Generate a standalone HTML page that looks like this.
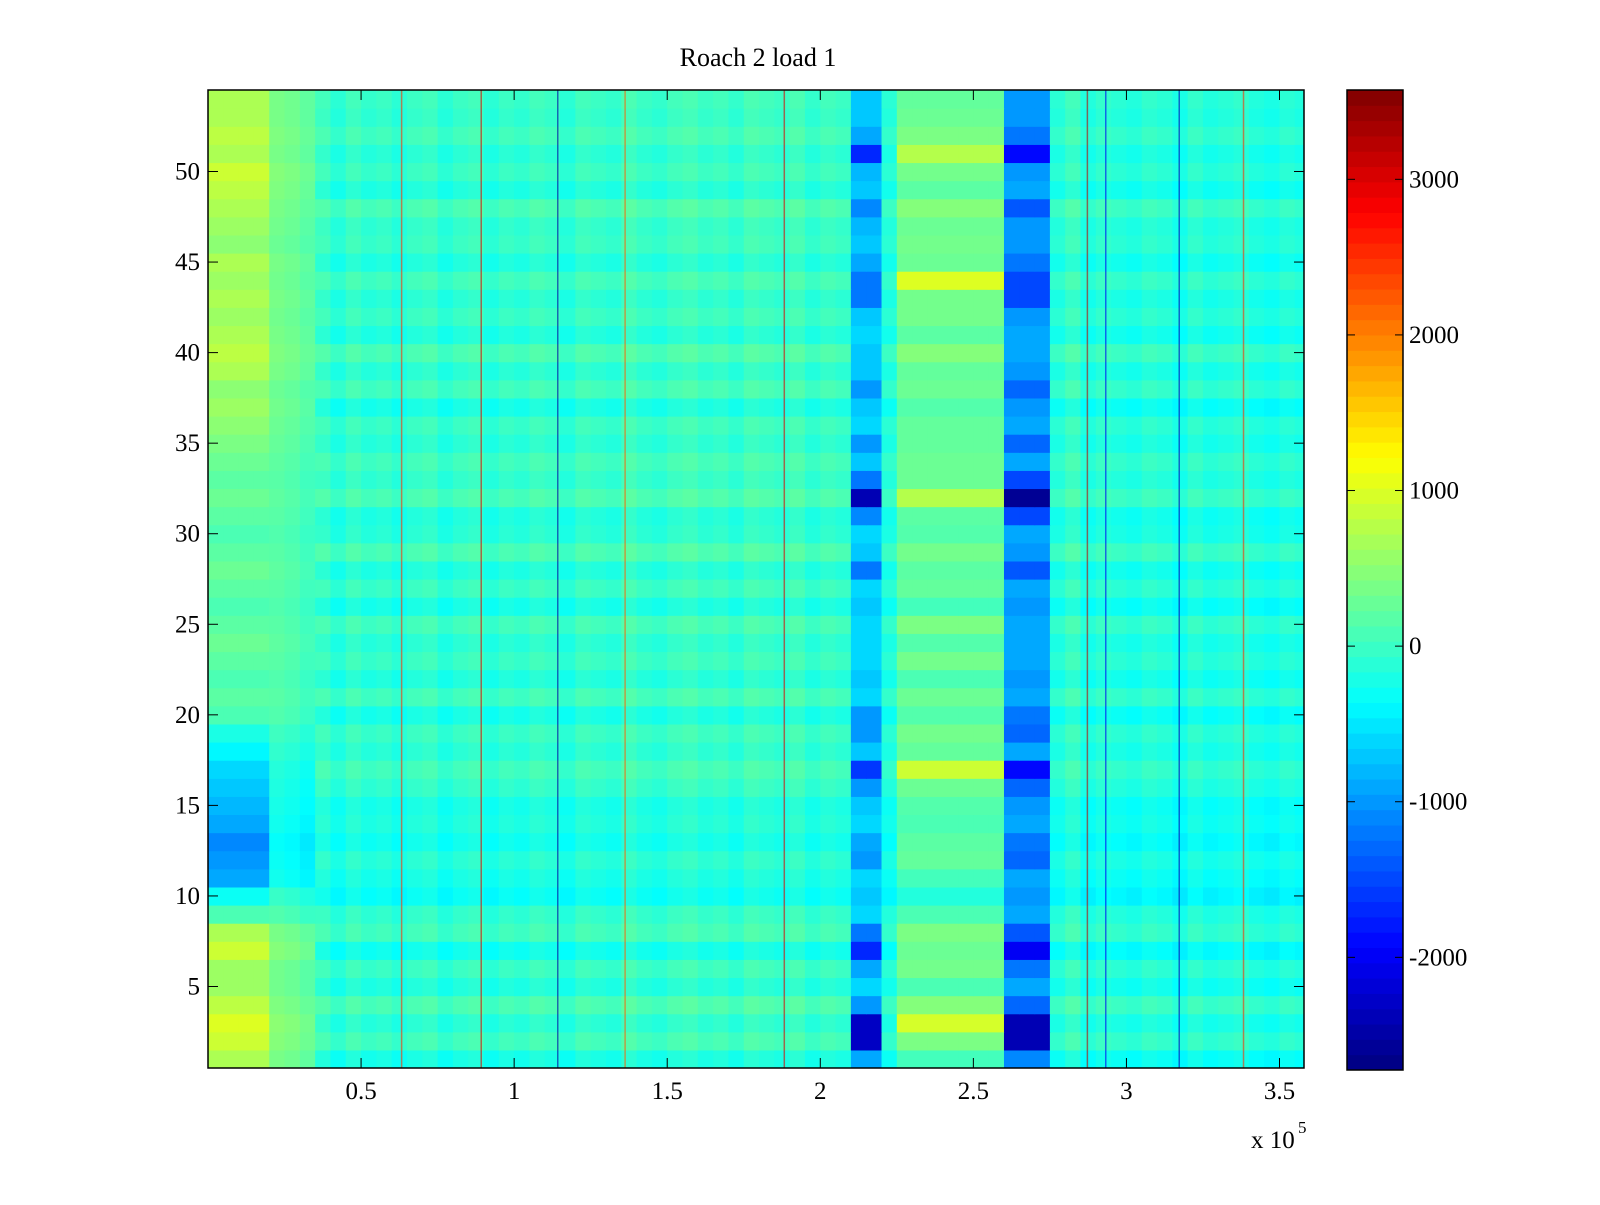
<!DOCTYPE html>
<html><head><meta charset="utf-8"><style>
body{margin:0;background:#fff;width:1600px;height:1200px;overflow:hidden}
svg text{font-family:"Liberation Serif",serif;fill:#000}
</style></head><body>
<svg id="c" width="1600" height="1200">
<defs><clipPath id="pc"><rect x="208" y="90" width="1096" height="978"/></clipPath></defs>
<text x="758" y="66" font-size="26" text-anchor="middle">Roach 2 load 1</text>
<g id="cells" clip-path="url(#pc)"></g>
<g id="lines" clip-path="url(#pc)"></g>
<rect x="208" y="90" width="1096" height="978" fill="none" stroke="#000" stroke-width="1.5"/>
<g id="axes"></g>
<g id="cbar"></g>
<text x="1251" y="1148" font-size="25">x 10</text><text x="1298" y="1133" font-size="17">5</text>
</svg>
<script>
const vmin=-2724, vmax=3574;
const xTicks=[0.5,1,1.5,2,2.5,3,3.5];
const yTicks=[5,10,15,20,25,30,35,40,45,50];
const cTicks=[-2000,-1000,0,1000,2000,3000];
const rowLeft=[700,900,1000,800,600,600,900,700,100,-300,-900,-1000,-1100,-900,-800,-700,-600,-400,-200,100,200,100,200,300,200,100,200,300,200,100,200,300,200,300,400,500,600,500,700,800,700,600,700,600,700,500,600,700,800,900,700,800,700,700];
const rowBase=[-150,100,-50,150,-100,50,-200,100,0,-250,-150,-50,-200,-100,-150,0,100,-50,50,-150,100,-100,50,-50,100,-150,50,-100,150,-50,-100,150,0,100,-50,50,-150,100,-50,150,-100,50,-50,100,-100,50,0,150,-100,50,-50,100,0,50];
const colBase=[300,300,300,200,100,50,-50,0,-150,0,-100,-50,-150,-50,0,-150,-50,0,-150,-50,-100,0,-50,-150,0,-50,-100,50,-50,-100,0,50,-50,0,-100,50,0,-50,50,-100,0,-50,0,50,-150,0,-50,-100,50,200,150,200,200,100,-100,-150,0,-200,-100,-150,-200,-100,-150,-250,-100,-200,-150,-100,-200,-250,-150,-200];
const blueA=[-900,-2300,-2300,-1000,-600,-900,-1700,-1200,-600,-700,-600,-1000,-900,-600,-700,-1000,-1600,-700,-1000,-1000,-600,-700,-600,-600,-600,-700,-600,-1200,-700,-600,-1100,-2400,-1200,-700,-1000,-600,-700,-1000,-700,-700,-600,-700,-1200,-1200,-900,-700,-800,-1100,-700,-800,-1700,-900,-700,-700];
const blueB=[-1100,-2400,-2400,-1300,-900,-1200,-2000,-1400,-900,-1000,-900,-1300,-1200,-900,-1000,-1300,-1900,-900,-1300,-1200,-900,-1000,-900,-900,-900,-1000,-900,-1400,-1000,-900,-1500,-2600,-1500,-900,-1300,-900,-1000,-1300,-1000,-900,-900,-1000,-1500,-1500,-1200,-1000,-1000,-1400,-900,-1000,-1900,-1200,-1000,-1000];
const yellowBand=[200,300,1000,300,200,300,500,300,100,100,200,300,400,200,300,300,800,300,300,300,200,200,300,200,300,200,200,300,200,200,300,600,300,200,300,200,300,200,300,300,300,300,400,900,400,300,300,300,300,300,800,300,300,200];
const spikeX=[0.63,0.89,1.14,1.36,1.88,2.87,2.93,3.17,3.38];
const spikeVal=[2500,3000,-2500,2200,3000,3200,-2000,-2400,2500];
const x0=208,x1=1304,y0=90,y1=1068,xmax=3.58;
const sx=v=>x0+v/xmax*(x1-x0);
const sy=v=>y0+(54.5-v)/54*(y1-y0);
function jet(v){const t=Math.max(0,Math.min(1,(v-vmin)/(vmax-vmin)));const c=a=>Math.round(255*Math.max(0,Math.min(1,1.5-Math.abs(4*t-a))));return `rgb(${c(3)},${c(2)},${c(1)})`;}
const NS='http://www.w3.org/2000/svg';
function el(t,a,p){const e=document.createElementNS(NS,t);for(const k in a)e.setAttribute(k,a[k]);p.appendChild(e);return e;}
const cells=document.getElementById('cells');
const bw=0.05;
for(let r=1;r<=54;r++){
  for(let c=0;c<colBase.length;c++){
    const xa=c*bw, xm=xa+bw/2;
    let v=colBase[c]+rowBase[r-1];
    if(xm<0.2)v=rowLeft[r-1];
    else if(xm<0.35)v=0.4*rowLeft[r-1]+colBase[c];
    if(xm>2.12&&xm<2.22)v=blueA[r-1];
    else if(xm>2.25&&xm<2.62)v=yellowBand[r-1]+rowBase[r-1];
    else if(xm>2.62&&xm<2.76)v=blueB[r-1];
    const e=el('rect',{x:sx(xa),y:sy(r+0.5),width:sx(xa+bw)-sx(xa)+0.6,height:sy(r-0.5)-sy(r+0.5)+0.6,fill:jet(v)},cells);
    
    
  }
}
const lines=document.getElementById('lines');
spikeX.forEach((x,i)=>{const e=el('rect',{x:sx(x),y:y0,width:1.5,height:y1-y0,fill:jet(spikeVal[i]),opacity:0.6},lines);
  
  });
const ax=document.getElementById('axes');
xTicks.forEach(t=>{const X=sx(t);el('line',{x1:X,x2:X,y1:y1,y2:y1-10,stroke:'#000'},ax);el('line',{x1:X,x2:X,y1:y0,y2:y0+10,stroke:'#000'},ax);
  const tx=el('text',{x:X,y:y1+31,'font-size':25,'text-anchor':'middle'},ax);tx.textContent=t;
  
  });
yTicks.forEach(t=>{const Y=sy(t);el('line',{x1:x0,x2:x0+10,y1:Y,y2:Y,stroke:'#000'},ax);el('line',{x1:x1,x2:x1-10,y1:Y,y2:Y,stroke:'#000'},ax);
  const tx=el('text',{x:x0-8,y:Y+8,'font-size':25,'text-anchor':'end'},ax);tx.textContent=t;
  
  });
const cb=document.getElementById('cbar');
const cx0=1347,cx1=1403,cy0=90,cy1=1070;
const cy=v=>cy1-(v-vmin)/(vmax-vmin)*(cy1-cy0);
for(let i=0;i<64;i++){const a=vmin+i*(vmax-vmin)/64,b=vmin+(i+1)*(vmax-vmin)/64;
  el('rect',{x:cx0,y:cy(b),width:cx1-cx0,height:cy(a)-cy(b)+0.5,fill:jet((a+b)/2)},cb);}
el('rect',{x:cx0,y:cy0,width:cx1-cx0,height:cy1-cy0,fill:'none',stroke:'#000','stroke-width':1.5},cb);
cTicks.forEach(t=>{const Y=cy(t);el('line',{x1:cx0,x2:cx0+8,y1:Y,y2:Y,stroke:'#000'},cb);el('line',{x1:cx1,x2:cx1-8,y1:Y,y2:Y,stroke:'#000'},cb);
  const tx=el('text',{x:cx1+6,y:Y+8,'font-size':25},cb);tx.textContent=t;
  
  });
</script>
</body></html>
